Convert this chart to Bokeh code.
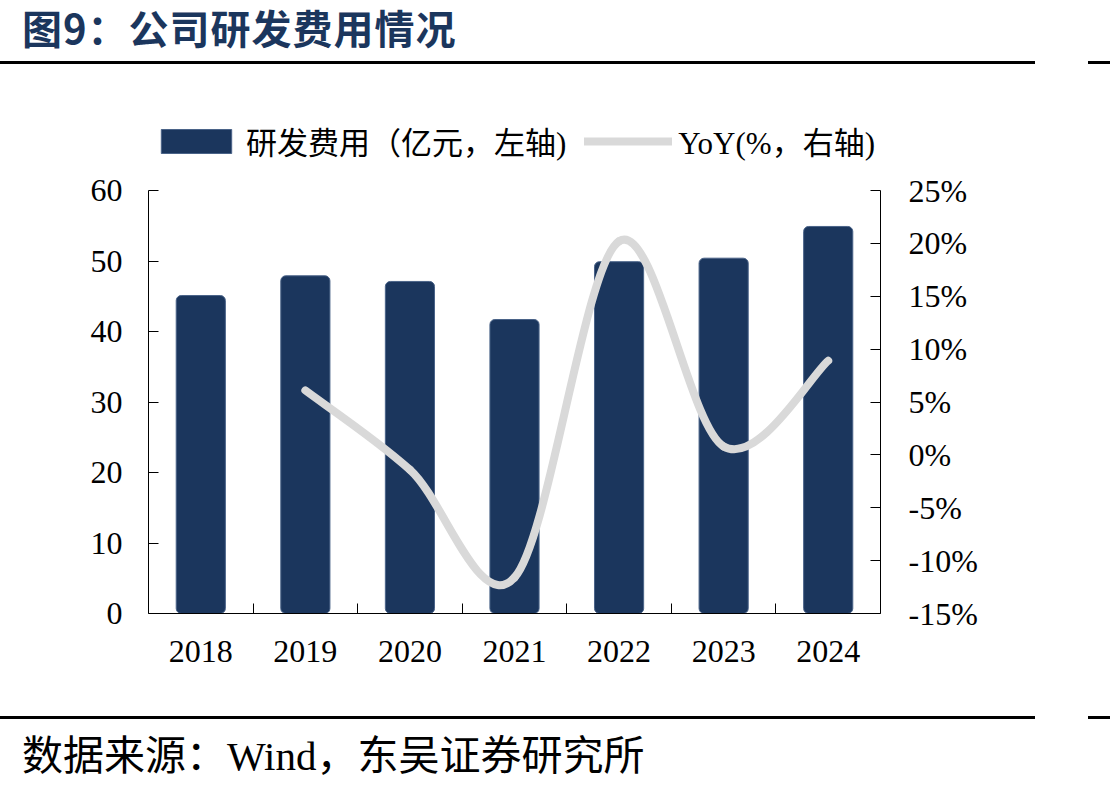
from bokeh.plotting import figure
from bokeh.models import Range1d, LinearAxis, FixedTicker, Legend, LegendItem, Div
from bokeh.layouts import column
from bokeh.embed import file_html
from bokeh.resources import INLINE
import numpy as np

# ---------------- data ----------------
years = ["2018", "2019", "2020", "2021", "2022", "2023", "2024"]
rd_expense = [45.1, 47.9, 47.1, 41.7, 49.9, 50.4, 54.9]          # 亿元
yoy_years = ["2019", "2020", "2021", "2022", "2023", "2024"]
yoy_pct = [6.1, -1.4, -11.6, 20.2, 0.8, 8.9]                      # %
left_ticks = [0, 10, 20, 30, 40, 50, 60]
right_ticks = [-15, -10, -5, 0, 5, 10, 15, 20, 25]

title_text = "图9：公司研发费用情况"
source_text = "数据来源：Wind，东吴证券研究所"
bar_label = "研发费用（亿元，左轴)"
line_label = "YoY(%，右轴)"

BAR_COLOR = "#1b365d"
LINE_COLOR = "#d9d9d9"
SERIF = "Liberation Serif, Noto Sans CJK SC"

# positions of categories on a numeric axis (centre of each slot)
pos = {y: i + 0.5 for i, y in enumerate(years)}
bar_x = [pos[y] for y in years]
yoy_x = [pos[y] for y in yoy_years]

# ---------------- layout geometry ----------------
FIG_H = 646
BORDER_TOP = 44
BORDER_BOTTOM = 99
FRAME_H = FIG_H - BORDER_TOP - BORDER_BOTTOM   # 503 px
AXIS_H = 423                                    # px covered by the axes
L_MIN, L_MAX = left_ticks[0], left_ticks[-1]
R_MIN, R_MAX = right_ticks[0], right_ticks[-1]
l_top = L_MIN + (L_MAX - L_MIN) * FRAME_H / AXIS_H
r_top = R_MIN + (R_MAX - R_MIN) * FRAME_H / AXIS_H

# ---------------- figure ----------------
p = figure(width=1110, height=FIG_H, output_backend="svg", toolbar_location=None,
           x_range=Range1d(0, len(years)), y_range=Range1d(L_MIN, l_top),
           min_border_left=148, min_border_right=230,
           min_border_top=BORDER_TOP, min_border_bottom=BORDER_BOTTOM)
p.outline_line_color = None
p.xgrid.visible = False
p.ygrid.visible = False
p.background_fill_color = "white"
p.border_fill_color = "white"

p.extra_y_ranges = {"yoy": Range1d(R_MIN, r_top)}

bars = p.vbar(x=bar_x, top=rd_expense, bottom=0, width=0.47,
              fill_color=BAR_COLOR, line_color="#4a6388", line_width=1,
              border_radius=5)

# smooth (Excel-like) curve via cubic Bezier segments
pts = np.column_stack([yoy_x, yoy_pct]).astype(float)
n = len(pts)
x0, y0, x1, y1, cx0, cy0, cx1, cy1 = ([] for _ in range(8))
for i in range(n - 1):
    P0, P3 = pts[i], pts[i + 1]
    prev = pts[i - 1] if i > 0 else pts[i]
    nxt = pts[i + 2] if i + 2 < n else pts[i + 1]
    C1 = P0 + (P3 - prev) / 6.0
    C2 = P3 - (nxt - P0) / 6.0
    x0.append(P0[0]); y0.append(P0[1])
    x1.append(P3[0]); y1.append(P3[1])
    cx0.append(C1[0]); cy0.append(C1[1])
    cx1.append(C2[0]); cy1.append(C2[1])

curve = p.bezier(x0=x0, y0=y0, x1=x1, y1=y1, cx0=cx0, cy0=cy0, cx1=cx1, cy1=cy1,
                 y_range_name="yoy", line_color=LINE_COLOR, line_width=8,
                 line_cap="round")

# ---------------- axes ----------------
xa = p.xaxis[0]
xa.ticker = FixedTicker(ticks=bar_x, minor_ticks=[i for i in range(1, len(years))])
xa.major_label_overrides = {pos[y]: y for y in years}
xa.major_tick_in = 0
xa.major_tick_out = 0
xa.minor_tick_in = 10
xa.minor_tick_out = 0
xa.minor_tick_line_color = "black"
xa.axis_line_color = "black"
xa.major_label_standoff = 27
xa.major_label_text_font = "Liberation Serif"
xa.major_label_text_font_size = "32px"
xa.major_label_text_color = "black"

ya = p.yaxis[0]
ya.ticker = FixedTicker(ticks=left_ticks)
ya.bounds = (L_MIN, L_MAX)
ya.major_tick_in = 10
ya.major_tick_out = 0
ya.minor_tick_line_color = None
ya.axis_line_color = "black"
ya.major_tick_line_color = "black"
ya.major_label_standoff = 26
ya.major_label_text_font = "Liberation Serif"
ya.major_label_text_font_size = "32px"
ya.major_label_text_color = "black"

ra = LinearAxis(y_range_name="yoy", ticker=FixedTicker(ticks=right_ticks),
                bounds=(R_MIN, R_MAX))
ra.major_label_overrides = {t: f"{t}%" for t in right_ticks}
ra.major_tick_in = 10
ra.major_tick_out = 0
ra.minor_tick_line_color = None
ra.axis_line_color = "black"
ra.major_tick_line_color = "black"
ra.major_label_standoff = 28
ra.major_label_text_font = "Liberation Serif"
ra.major_label_text_font_size = "32px"
ra.major_label_text_color = "black"
p.add_layout(ra, "right")

# ---------------- legend (top of frame, above the axes) ----------------
legend = Legend(items=[LegendItem(label=bar_label, renderers=[bars]),
                       LegendItem(label=line_label, renderers=[curve])],
                orientation="horizontal", location=(4, 450),
                glyph_width=88, glyph_height=30, label_standoff=6, spacing=18,
                padding=0, margin=0, border_line_color=None,
                background_fill_alpha=0,
                label_text_font=SERIF, label_text_font_size="31px",
                label_text_color="black")
p.add_layout(legend)

# ---------------- title & source ----------------
title_div = Div(width=1110, height=66, margin=(0, 0, 0, 0), text=f"""
<div style="position:relative;width:1110px;height:66px;">
  <div style="padding:2px 0 0 22px;font-family:'Noto Sans CJK SC';font-weight:bold;
       font-size:40px;line-height:50px;letter-spacing:1px;color:{BAR_COLOR};white-space:nowrap;">{title_text}</div>
  <div style="position:absolute;left:0px;top:61px;width:1035px;height:3px;background:#000;"></div>
  <div style="position:absolute;left:1088px;top:61px;width:22px;height:3px;background:#000;"></div>
</div>""")

source_div = Div(width=1110, height=79, margin=(0, 0, 0, 0), text=f"""
<div style="position:relative;width:1110px;height:79px;">
  <div style="position:absolute;left:0px;top:4px;width:1035px;height:3px;background:#000;"></div>
  <div style="position:absolute;left:1088px;top:4px;width:22px;height:3px;background:#000;"></div>
  <div style="padding:19px 0 0 22px;font-family:'Liberation Serif','Noto Sans CJK SC';
       font-size:41px;line-height:50px;color:#000;white-space:nowrap;">{source_text}</div>
</div>""")

layout = column(title_div, p, source_div, spacing=0)

open("out.html", "w").write(file_html(layout, INLINE))
